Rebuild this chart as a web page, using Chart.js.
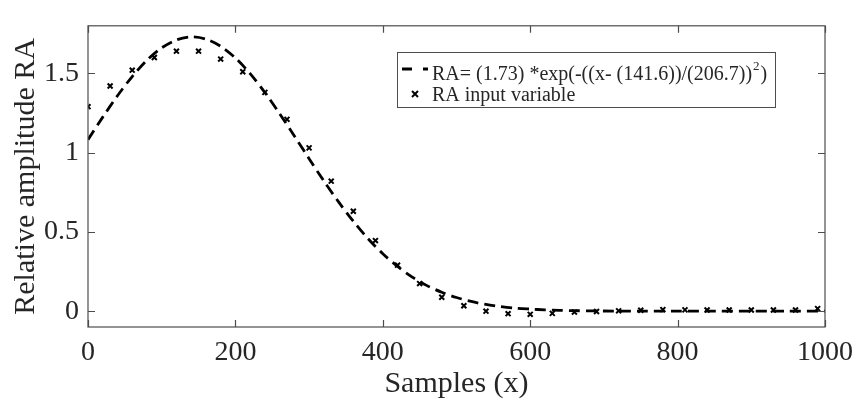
<!DOCTYPE html>
<html>
<head>
<meta charset="utf-8">
<script src="https://cdn.jsdelivr.net/npm/chart.js@4.4.1/dist/chart.umd.min.js"></script>
<style>
  html, body { margin: 0; padding: 0; background: #fff; }
  #wrap { width: 862px; height: 403px; }
</style>
</head>
<body>
<div id="wrap"><canvas id="chart" width="862" height="403"></canvas></div>
<script>
// Gaussian fit curve (dashed)
const fitX = [0, 20, 40, 60, 80, 100, 120, 140, 160, 180, 200, 220, 240, 260, 280, 300,
  320, 340, 360, 380, 400, 420, 440, 460, 480, 500, 520, 540, 560, 580, 600, 620, 640,
  660, 680, 700, 750, 800, 850, 900, 950, 1000];
const fitY = [1.082, 1.224, 1.359, 1.480, 1.583, 1.661, 1.711, 1.730, 1.716, 1.671, 1.597,
  1.498, 1.379, 1.246, 1.105, 0.962, 0.821, 0.689, 0.567, 0.457, 0.362, 0.282, 0.215,
  0.161, 0.119, 0.086, 0.061, 0.042, 0.029, 0.019, 0.013, 0.008, 0.005, 0.003, 0.002,
  0.001, 0, 0, 0, 0, 0, 0];

// RA input variable (x markers)
const sampleX = [0, 30, 60, 90, 120, 150, 180, 210, 240, 270, 300, 330, 360, 390, 420, 450,
  480, 510, 540, 570, 600, 630, 660, 690, 720, 750, 780, 810, 840, 870, 900, 930, 960, 990];
const sampleY = [1.29, 1.42, 1.52, 1.60, 1.64, 1.64, 1.59, 1.51, 1.38, 1.21, 1.03, 0.82,
  0.63, 0.445, 0.29, 0.174, 0.088, 0.034, 0.0, -0.016, -0.02, -0.014, -0.006, -0.002,
  0.002, 0.006, 0.01, 0.008, 0.007, 0.007, 0.007, 0.007, 0.007, 0.016];

const xTicks = [0, 200, 400, 600, 800, 1000];
const yTicks = [0, 0.5, 1, 1.5];

const SERIF = "'Liberation Serif', 'Times New Roman', serif";
const AXIS_COLOR = '#4d4d4d';
const TEXT_COLOR = '#262626';

// box around the plot with inward ticks on all four sides, MATLAB style
const framePlugin = {
  id: 'frame',
  afterDraw(chart) {
    const ctx = chart.ctx;
    const { left, right, top, bottom } = chart.chartArea;
    const xs = chart.scales.x, ys = chart.scales.y;
    ctx.save();
    ctx.strokeStyle = AXIS_COLOR;
    ctx.lineWidth = 1.2;
    ctx.strokeRect(left, top, right - left, bottom - top);
    ctx.beginPath();
    xTicks.forEach(v => {
      const px = Math.round(xs.getPixelForValue(v)) + 0.5;
      ctx.moveTo(px, bottom); ctx.lineTo(px, bottom - 7);
      ctx.moveTo(px, top); ctx.lineTo(px, top + 7);
    });
    yTicks.forEach(v => {
      const py = Math.round(ys.getPixelForValue(v)) + 0.5;
      ctx.moveTo(left, py); ctx.lineTo(left + 7, py);
      ctx.moveTo(right, py); ctx.lineTo(right - 7, py);
    });
    ctx.stroke();
    ctx.restore();
  }
};

// legend box, drawn by hand because of the superscript
const legendPlugin = {
  id: 'fitLegend',
  afterDraw(chart) {
    const ctx = chart.ctx;
    const bx = 397, by = 52, bw = 378, bh = 55;
    ctx.save();
    ctx.fillStyle = '#fff';
    ctx.fillRect(bx, by, bw, bh);
    ctx.strokeStyle = AXIS_COLOR;
    ctx.lineWidth = 1;
    ctx.strokeRect(bx + 0.5, by + 0.5, bw, bh);

    // dashed sample
    ctx.strokeStyle = '#000';
    ctx.lineWidth = 2.8;
    ctx.setLineDash([10, 11]);
    ctx.beginPath();
    ctx.moveTo(402, 69); ctx.lineTo(428, 69);
    ctx.stroke();
    ctx.setLineDash([]);

    // cross sample
    ctx.lineWidth = 2;
    ctx.beginPath();
    ctx.moveTo(412, 91); ctx.lineTo(418, 97);
    ctx.moveTo(418, 91); ctx.lineTo(412, 97);
    ctx.stroke();

    ctx.fillStyle = TEXT_COLOR;
    ctx.textBaseline = 'alphabetic';
    ctx.font = '20px ' + SERIF;
    const main = 'RA= (1.73) *exp(-((x- (141.6))/(206.7))';
    ctx.fillText(main, 432, 80);
    let w = ctx.measureText(main).width;
    ctx.font = '13px ' + SERIF;
    ctx.fillText('2', 432 + w + 1, 70);
    const sw = ctx.measureText('2').width;
    ctx.font = '20px ' + SERIF;
    ctx.fillText(')', 432 + w + sw + 2, 80);
    ctx.fillText('RA input variable', 432, 101);
    ctx.restore();
  }
};

new Chart(document.getElementById('chart'), {
  type: 'scatter',
  data: {
    datasets: [
      {
        label: 'fit',
        data: fitX.map((x, i) => ({ x: x, y: fitY[i] })),
        showLine: true,
        borderColor: '#000',
        borderWidth: 2.8,
        borderDash: [11, 6],
        pointRadius: 0,
        tension: 0.3,
        fill: false
      },
      {
        label: 'RA input variable',
        data: sampleX.map((x, i) => ({ x: x, y: sampleY[i] })),
        showLine: false,
        pointStyle: 'crossRot',
        pointRadius: 3.5,
        borderColor: '#000',
        borderWidth: 2
      }
    ]
  },
  options: {
    responsive: false,
    animation: false,
    layout: { padding: { left: 0, right: 33, top: 10, bottom: 0 } },
    plugins: { legend: { display: false }, tooltip: { enabled: false } },
    scales: {
      x: {
        type: 'linear',
        min: 0,
        max: 1000,
        afterBuildTicks: s => { s.ticks = xTicks.map(v => ({ value: v })); },
        afterFit: s => { s.height = 76; },
        grid: { display: false, drawTicks: false },
        border: { display: false },
        ticks: {
          color: TEXT_COLOR,
          font: { family: SERIF, size: 28 },
          padding: 9,
          maxRotation: 0,
          callback: v => String(v)
        },
        title: {
          display: true,
          text: 'Samples (x)',
          color: TEXT_COLOR,
          font: { family: SERIF, size: 30 },
          padding: { top: 0, bottom: 1 }
        }
      },
      y: {
        type: 'linear',
        min: -0.1,
        max: 1.8,
        afterBuildTicks: s => { s.ticks = yTicks.map(v => ({ value: v })); },
        afterFit: s => { s.width = 88; },
        grid: { display: false, drawTicks: false },
        border: { display: false },
        ticks: {
          color: TEXT_COLOR,
          font: { family: SERIF, size: 28 },
          padding: 9,
          callback: v => String(v)
        },
        title: {
          display: true,
          text: 'Relative amplitude RA',
          color: TEXT_COLOR,
          font: { family: SERIF, size: 30 },
          padding: { top: 8, bottom: 0 }
        }
      }
    }
  },
  plugins: [framePlugin, legendPlugin]
});
</script>
</body>
</html>
